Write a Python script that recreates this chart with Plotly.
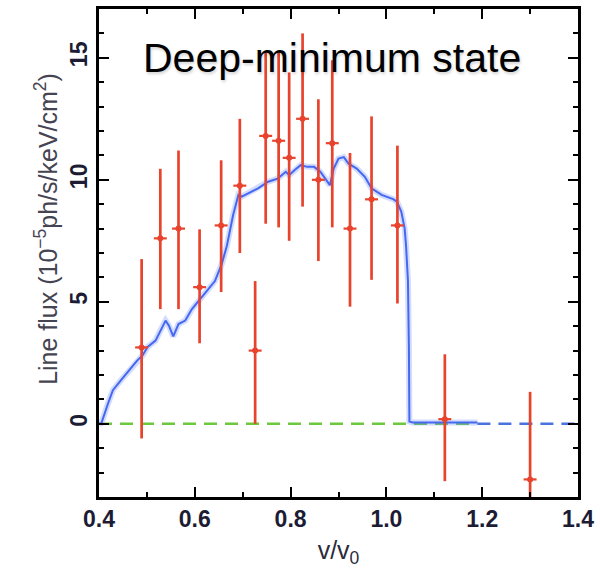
import plotly.graph_objects as go

# ---- measured data (red points with error bars) ----
bin_center = [0.489, 0.528, 0.566, 0.610, 0.655, 0.694, 0.726, 0.748, 0.775,
              0.797, 0.825, 0.858, 0.887, 0.924, 0.969, 1.023, 1.122, 1.300]
line_flux = [3.13, 7.6, 8.0, 5.6, 8.13, 9.76, 3.0, 11.8, 11.6,
             10.9, 12.5, 10.0, 11.5, 8.0, 9.2, 8.13, 0.19, -2.28]
flux_upper = [6.75, 10.45, 11.2, 7.97, 10.8, 12.5, 5.85, 15.2, 15.2,
              14.4, 16.0, 13.3, 14.9, 11.1, 12.6, 11.4, 2.85, 1.31]
flux_lower = [-0.6, 4.7, 4.7, 3.3, 5.4, 7.0, 0.0, 8.2, 8.05,
              7.5, 8.9, 6.67, 8.05, 4.8, 5.9, 4.93, -2.35, -3.6]
bin_half_width = 0.0135

# ---- model curve (blue) ----
model_x = [0.400, 0.405, 0.419, 0.429, 0.446, 0.463, 0.480, 0.491, 0.501, 0.518,
           0.528, 0.539, 0.546, 0.555, 0.566, 0.580, 0.594, 0.608, 0.625, 0.642,
           0.656, 0.667, 0.680, 0.691, 0.698, 0.711, 0.732, 0.753, 0.773, 0.790,
           0.797, 0.808, 0.821, 0.835, 0.849, 0.862, 0.873, 0.882, 0.890, 0.900,
           0.911, 0.921, 0.938, 0.955, 0.969, 0.990, 1.014, 1.022, 1.031, 1.038,
           1.041, 1.045, 1.047, 1.048, 1.055, 1.190]
model_y = [0.00, 0.03, 0.84, 1.38, 1.79, 2.20, 2.60, 2.80, 3.14, 3.41,
           3.82, 4.23, 4.02, 3.58, 4.09, 4.23, 4.70, 5.04, 5.45, 5.85,
           6.53, 7.30, 8.56, 9.38, 9.31, 9.44, 9.65, 9.92, 10.05, 10.33,
           10.19, 10.39, 10.60, 10.53, 10.53, 10.33, 10.05, 9.78, 10.46, 10.87,
           10.93, 10.66, 10.46, 10.12, 9.65, 9.38, 9.21, 9.10, 8.70, 8.02,
           7.30, 5.85, 3.14, 0.09, 0.05, 0.05]

# ---- zero reference line ----
zero_green_x = [0.40, 1.19]
zero_blue_x = [1.19, 1.40]
zero_level = [0, 0]

# ---- ticks ----
x_tickvals = [0.4, 0.6, 0.8, 1.0, 1.2, 1.4]
x_ticktext = ["0.4", "0.6", "0.8", "1.0", "1.2", "1.4"]
y_tickvals = [0, 5, 10, 15]
y_ticktext = ["0", "5", "10", "15"]

RED = "#e8432d"
FONT = "Liberation Sans, Arial, Helvetica, sans-serif"

err_plus = [h - y for h, y in zip(flux_upper, line_flux)]
err_minus = [y - l for y, l in zip(line_flux, flux_lower)]

fig = go.Figure()
fig.add_trace(go.Scatter(x=zero_green_x, y=zero_level, mode="lines",
                         line=dict(color="#6cc83c", width=2.5, dash="13px,8px"),
                         hoverinfo="skip"))
fig.add_trace(go.Scatter(x=zero_blue_x, y=zero_level, mode="lines",
                         line=dict(color="#4a72e0", width=2.5, dash="13px,8px"),
                         hoverinfo="skip"))
fig.add_trace(go.Scatter(x=model_x, y=model_y, mode="lines",
                         line=dict(color="rgba(110,140,255,0.30)", width=6)))
fig.add_trace(go.Scatter(x=model_x, y=model_y, mode="lines",
                         line=dict(color="#4468f0", width=2)))
fig.add_trace(go.Scatter(
    x=bin_center, y=line_flux, mode="markers",
    marker=dict(size=0, color=RED),
    error_y=dict(type="data", symmetric=False, array=err_plus, arrayminus=err_minus,
                 width=0, thickness=2.7, color=RED),
    error_x=dict(type="constant", value=bin_half_width, width=0, thickness=2.2, color=RED),
))

fig.add_annotation(
    x=0.887, y=15.0, xref="x", yref="y", text="Deep-minimum state",
    showarrow=False, xanchor="center", yanchor="middle",
    font=dict(family=FONT, size=41, color="black",
              shadow="1px 2px 3px rgba(0,0,0,0.18)"),
)

# y-axis title as rotated annotation (pixel position converted to paper coords)
plot_w = 600 - 99 - 16
plot_h = 568 - 6 - 70
fig.add_annotation(
    x=(46 - 99) / plot_w, y=(568 - 70 - 228) / plot_h, xref="paper", yref="paper",
    text="Line flux (10<sup>−5</sup>ph/s/keV/cm<sup>2</sup>)",
    showarrow=False, textangle=-90, xanchor="center", yanchor="middle",
    font=dict(family=FONT, size=25, color="#444452"),
)

axis_common = dict(
    showline=True, linecolor="black", linewidth=2.5, mirror="ticks",
    ticks="inside", ticklen=10, tickwidth=2, tickcolor="black",
    showgrid=False, zeroline=False, ticklabeloverflow="allow",
    tickfont=dict(family=FONT, size=23, color="#1c1c34", weight="bold"),
)

fig.update_layout(
    width=600, height=568,
    margin=dict(l=99, r=16, t=6, b=70),
    paper_bgcolor="white", plot_bgcolor="white",
    showlegend=False,
    xaxis=dict(
        range=[0.4, 1.4], tickmode="array", tickvals=x_tickvals, ticktext=x_ticktext,
        minor=dict(dtick=0.1, tick0=0.4, ticks="inside", ticklen=5, tickwidth=2, tickcolor="black"),
        title=dict(text="v/v<sub>0</sub>", font=dict(family=FONT, size=25, color="#2a2a3a"), standoff=12),
        **axis_common,
    ),
    yaxis=dict(
        range=[-3, 17], tickmode="array", tickvals=y_tickvals, ticktext=y_ticktext,
        tickangle=-90,
        minor=dict(dtick=1, tick0=0, ticks="inside", ticklen=5, tickwidth=2, tickcolor="black"),
        **axis_common,
    ),
)

fig.write_html("out.html")
